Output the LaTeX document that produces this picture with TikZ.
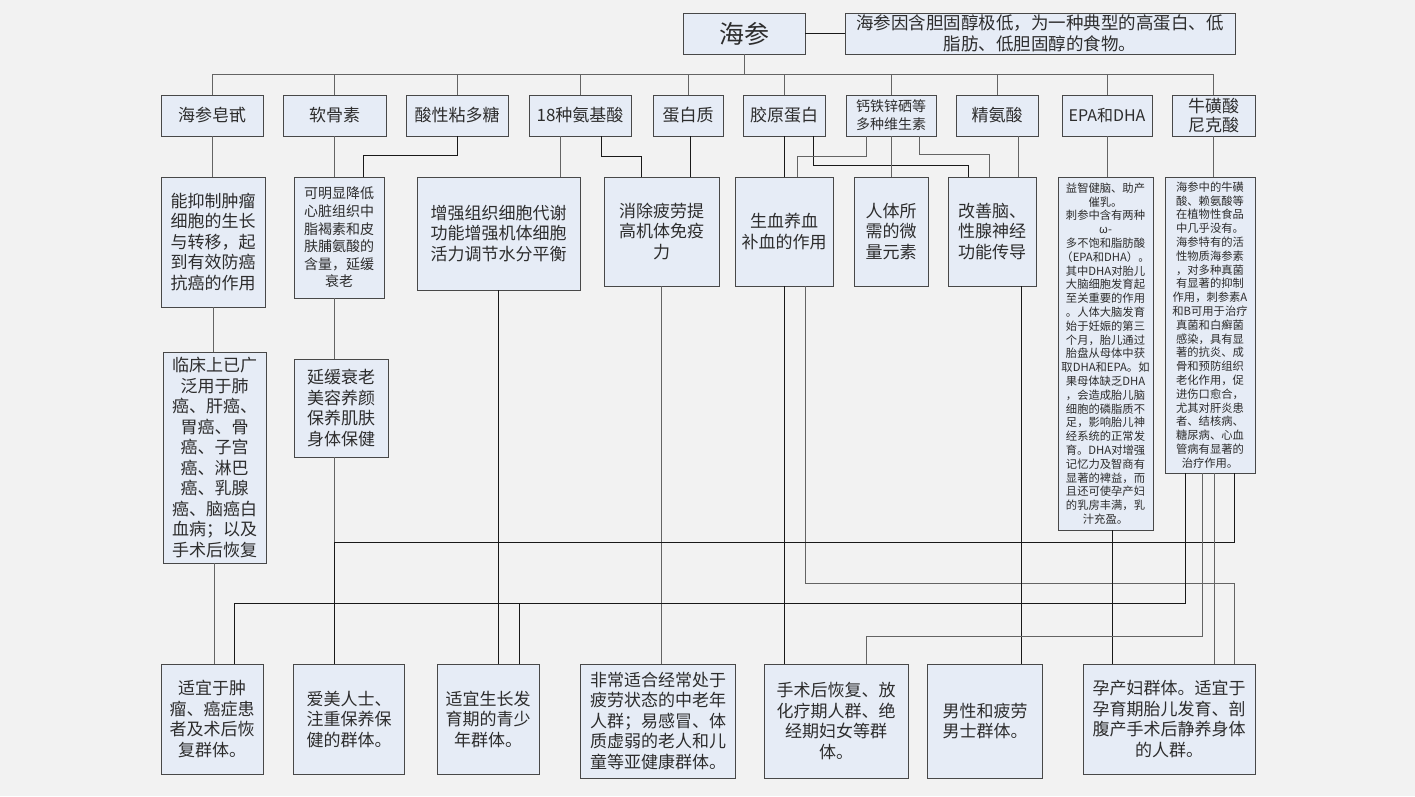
\documentclass[tikz,border=0pt]{standalone}
\usepackage{fontspec}
\setmainfont{Noto Sans CJK SC}
\definecolor{SeaBg}{RGB}{242,242,242}
\definecolor{SeaFill}{RGB}{230,236,246}
\definecolor{SeaEdge}{RGB}{72,72,72}
\definecolor{SeaText}{RGB}{45,45,45}
\definecolor{SeaLine}{RGB}{25,25,25}
\definecolor{SeaGray}{RGB}{100,100,100}
\tikzset{
  box/.style={rectangle, draw=SeaEdge, fill=SeaFill, line width=0.9pt,
              inner sep=1pt, text=SeaText, align=center,
              font=\fontsize{17}{20.5}\selectfont},
  sbox/.style={box, font=\fontsize{14}{17.6}\selectfont},
  tbox/.style={box, font=\fontsize{11.3}{13.8}\selectfont},
  wire/.style={line width=0.9pt, color=#1},
  wire/.default=SeaLine,
}
\begin{document}
\begin{tikzpicture}[x=1pt, y=-1pt]
      \fill[SeaBg] (0,0) rectangle (1415,796);
      \useasboundingbox (0,0) rectangle (1415,796);

      % top
      \node[box, minimum width=122pt, minimum height=41pt,
            font=\fontsize{25}{28}\selectfont] (hs) at (744,33.5) {海参};
      \node[box, minimum width=390pt, minimum height=41pt,
            font=\fontsize{17.5}{21}\selectfont] (desc) at (1040,33.5)
            {海参因含胆固醇极低，为一种典型的高蛋白、低\\脂肪、低胆固醇的食物。};

      % components
      \node[box, minimum width=102pt, minimum height=41pt] (r1a) at (212,115.5) {海参皂甙};
      \node[box, minimum width=103pt, minimum height=41pt] (r1b) at (334.5,115.5) {软骨素};
      \node[box, minimum width=102pt, minimum height=41pt] (r1c) at (457,115.5) {酸性粘多糖};
      \node[box, minimum width=102pt, minimum height=41pt] (r1d) at (580,115.5) {18种氨基酸};
      \node[box, minimum width=70pt, minimum height=41pt] (r1e) at (688,115.5) {蛋白质};
      \node[box, minimum width=82pt, minimum height=41pt] (r1f) at (784,115.5) {胶原蛋白};
      \node[sbox, minimum width=90pt, minimum height=41pt,
            font=\fontsize{14}{18.3}\selectfont] (r1g) at (891,115.5) {钙铁锌硒等\\多种维生素};
      \node[box, minimum width=82pt, minimum height=41pt] (r1h) at (997,115.5) {精氨酸};
      \node[box, minimum width=90pt, minimum height=41pt,
            font=\fontsize{16}{19}\selectfont] (r1i) at (1107,115.5) {EPA和DHA};
      \node[box, minimum width=83pt, minimum height=41pt,
            font=\fontsize{17}{19}\selectfont] (r1j) at (1213.5,115.5) {牛磺酸\\尼克酸};

      % effects
      \node[box, minimum width=104pt, minimum height=130pt] (e1) at (213,242)
            {能抑制肿瘤\\细胞的生长\\与转移，起\\到有效防癌\\抗癌的作用};
      \node[sbox, minimum width=90pt, minimum height=121pt] (e2) at (339,237.5)
            {可明显降低\\心脏组织中\\脂褐素和皮\\肤脯氨酸的\\含量，延缓\\衰老};
      \node[box, minimum width=163pt, minimum height=113pt] (e3) at (498.5,233.5)
            {增强组织细胞代谢\\功能增强机体细胞\\活力调节水分平衡};
      \node[box, minimum width=115pt, minimum height=109pt] (e4) at (661.5,231.5)
            {消除疲劳提\\高机体免疫\\力};
      \node[box, minimum width=98pt, minimum height=109pt] (e5) at (784,231.5)
            {生血养血\\补血的作用};
      \node[box, minimum width=74pt, minimum height=109pt] (e6) at (891,231.5)
            {人体所\\需的微\\量元素};
      \node[box, minimum width=88pt, minimum height=109pt] (e7) at (992,231.5)
            {改善脑、\\性腺神经\\功能传导};
      \node[tbox, minimum width=95pt, minimum height=353pt] (e8) at (1105.5,353.5)
            {益智健脑、助产\\催乳。\\刺参中含有两种\\ω-\\多不饱和脂肪酸\\（EPA和DHA）。\\其中DHA对胎儿\\大脑细胞发育起\\至关重要的作用\\。人体大脑发育\\始于妊娠的第三\\个月，胎儿通过\\胎盘从母体中获\\取DHA和EPA。如\\果母体缺乏DHA\\，会造成胎儿脑\\细胞的磷脂质不\\足，影响胎儿神\\经系统的正常发\\育。DHA对增强\\记忆力及智商有\\显著的裨益，而\\且还可使孕产妇\\的乳房丰满，乳\\汁充盈。};
      \node[tbox, minimum width=90pt, minimum height=296pt] (e9) at (1210,325)
            {海参中的牛磺\\酸、赖氨酸等\\在植物性食品\\中几乎没有。\\海参特有的活\\性物质海参素\\，对多种真菌\\有显著的抑制\\作用，刺参素A\\和B可用于治疗\\真菌和白癣菌\\感染，具有显\\著的抗炎、成\\骨和预防组织\\老化作用，促\\进伤口愈合，\\尤其对肝炎患\\者、结核病、\\糖尿病、心血\\管病有显著的\\治疗作用。};

      % further effects
      \node[box, minimum width=103pt, minimum height=211pt] (f1) at (214.5,457.5)
            {临床上已广\\泛用于肺\\癌、肝癌、\\胃癌、骨\\癌、子宫\\癌、淋巴\\癌、乳腺\\癌、脑癌白\\血病；以及\\手术后恢复};
      \node[box, minimum width=94pt, minimum height=98pt] (f2) at (341,408)
            {延缓衰老\\美容养颜\\保养肌肤\\身体保健};

      % target groups
      \node[box, minimum width=102pt, minimum height=110pt] (g1) at (212,719)
            {适宜于肿\\瘤、癌症患\\者及术后恢\\复群体。};
      \node[box, minimum width=111pt, minimum height=110pt] (g2) at (349,719)
            {爱美人士、\\注重保养保\\健的群体。};
      \node[box, minimum width=102pt, minimum height=110pt] (g3) at (488,719)
            {适宜生长发\\育期的青少\\年群体。};
      \node[box, minimum width=155pt, minimum height=114pt] (g4) at (658,721)
            {非常适合经常处于\\疲劳状态的中老年\\人群；易感冒、体\\质虚弱的老人和儿\\童等亚健康群体。};
      \node[box, minimum width=144pt, minimum height=114pt] (g5) at (836,721)
            {手术后恢复、放\\化疗期人群、绝\\经期妇女等群\\体。};
      \node[box, minimum width=115pt, minimum height=114pt] (g6) at (985,721)
            {男性和疲劳\\男士群体。};
      \node[box, minimum width=172pt, minimum height=110pt] (g7) at (1169,719)
            {孕产妇群体。适宜于\\孕育期胎儿发育、剖\\腹产手术后静养身体\\的人群。};

      % tree
      \draw[wire] (hs) -- (desc);
      \draw[wire=SeaGray] (hs.south) -- ++(0,20) coordinate (bus);
      \draw[wire=SeaGray] (r1a.north |- bus) -- (r1j.north |- bus);
      \foreach \n in {r1a,r1b,r1c,r1d,r1e,r1f,r1g,r1h,r1i,r1j}
        \draw[wire=SeaGray] (\n.north |- bus) -- (\n.north);

      % components to effects
      \draw[wire=SeaGray] (r1a.south) -- (r1a.south |- e1.north);
      \draw[wire=SeaGray] (r1b.south) -- (r1b.south |- e2.north);
      \draw[wire] (r1c.south) -- ++(0,19) -| ([xshift=24pt]e2.north);
      \draw[wire=SeaGray] ([xshift=-20pt]r1d.south) -- ([xshift=-20pt]r1d.south |- e3.north);
      \draw[wire] ([xshift=21pt]r1d.south) -- ++(0,20) -| ([xshift=-20pt]e4.north);
      \draw[wire] ([xshift=2pt]r1e.south) -- ([xshift=2pt]r1e.south |- e4.north);
      \draw[wire] (r1f.south) -- (r1f.south |- e5.north);
      \draw[wire] ([xshift=29pt]r1f.south) -- ++(0,29) -| ([xshift=-24pt]e7.north);
      \draw[wire=SeaGray] ([xshift=-25pt]r1g.south) -- ++(0,20) -| ([xshift=13pt]e5.north);
      \draw[wire=SeaGray] (r1g.south) -- (e6.north);
      \draw[wire=SeaGray] ([xshift=28pt]r1g.south) -- ++(0,18) -| ([xshift=-3pt]e7.north);
      \draw[wire=SeaGray] ([xshift=21pt]r1h.south) -- ([xshift=21pt]r1h.south |- e7.north);
      \draw[wire=SeaGray] (r1i.south) -- (r1i.south |- e8.north);
      \draw[wire=SeaGray] (r1j.south) -- (r1j.south |- e9.north);

      % effects to groups
      \draw[wire=SeaGray] (e1.south) -- (e1.south |- f1.north);
      \draw[wire=SeaGray] (f1.south) -- (f1.south |- g1.north);
      \draw[wire=SeaGray] (r1b |- e2.south) -- (r1b |- f2.north);
      \draw[wire=SeaGray] (r1b |- f2.south) -- (r1b |- g2.north);
      \draw[wire] (e3.south) -- (e3.south |- g3.north);
      \draw[wire=SeaGray] (e4.south) -- (e4.south |- g4.north);
      \draw[wire] (e5.south) -- (e5.south |- g5.north);
      \draw[wire=SeaGray] ([xshift=21pt]e5.south) -- ++(0,297) -| ([xshift=65pt]g7.north);
      \draw[wire] ([xshift=29pt]e7.south) -- ([xshift=29pt]e7.south |- g6.north);
      \draw[wire] ([xshift=6.5pt]e8.south) -- ([xshift=6.5pt]e8.south |- g7.north);
      \draw[wire] ([xshift=24pt]e9.south) -- ++(0,69) -| (r1b |- g2.north);
      \draw[wire] ([xshift=-25pt]e9.south) -- ++(0,130) -| ([xshift=22pt]g1.north);
      \draw[wire] ([xshift=-25pt]e9.south) -- ++(0,130) -| ([xshift=31pt]g3.north);
      \draw[wire=SeaGray] ([xshift=-8pt]e9.south) -- ++(0,163) -| ([xshift=30pt]g5.north);
      \draw[wire=SeaGray] ([xshift=4pt]e9.south) -- ([xshift=4pt]e9.south |- g7.north);
\end{tikzpicture}
\end{document}
